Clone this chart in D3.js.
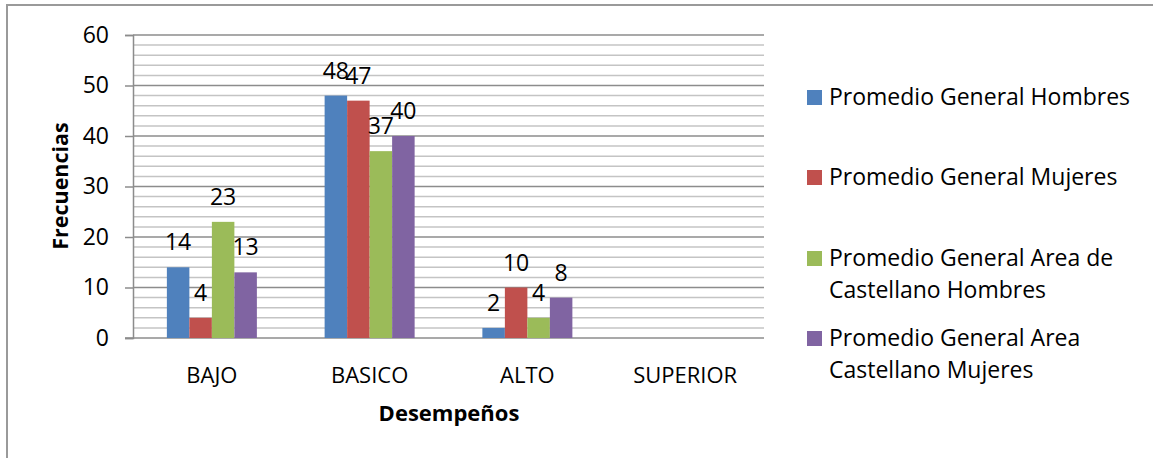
<!DOCTYPE html>
<html><head><meta charset="utf-8">
<script src="https://cdn.jsdelivr.net/npm/d3@7/dist/d3.min.js"></script>
<style>body{margin:0;background:#fff}svg{display:block}text{font-family:"Open Sans",sans-serif;fill:#000}</style>
</head><body>
<script>
const categories = ["BAJO","BASICO","ALTO","SUPERIOR"];
const series = ["Promedio General Hombres","Promedio General Mujeres","Promedio General Area de Castellano Hombres","Promedio General Area Castellano Mujeres"];
const legendLines = [["Promedio General Hombres"],["Promedio General Mujeres"],["Promedio General Area de","Castellano Hombres"],["Promedio General Area","Castellano Mujeres"]];
const hombres = [14,48,2,null];
const mujeres = [4,47,10,null];
const castHombres = [23,37,4,null];
const castMujeres = [13,40,8,null];
const yTicks = [0,10,20,30,40,50,60];
const colors = ["#4f81bd","#c0504d","#9bbb59","#8064a2"];
const values = [hombres,mujeres,castHombres,castMujeres];

const W=1153,H=458;
const svg=d3.select("body").append("svg").attr("width",W).attr("height",H);
svg.append("rect").attr("x",7).attr("y",5).attr("width",1160).attr("height",480).attr("fill","none").attr("stroke","#9a9a9a").attr("stroke-width",2);

const L=133,R=764,T=35,B=338;
const y=d3.scaleLinear().domain([0,60]).range([B,T]);
const x=d3.scaleBand().domain(categories).range([L,R]);
const gw=90;
const xi=d3.scaleBand().domain(d3.range(4)).range([0,gw]);

const g=svg.append("g");
g.selectAll("line.minor").data(d3.range(0,61,2).filter(v=>v%10!==0)).join("line")
 .attr("x1",L).attr("x2",R).attr("y1",d=>y(d)).attr("y2",d=>y(d)).attr("stroke","#c4c4c4").attr("stroke-width",1.5);
g.selectAll("line.major").data(yTicks.filter(v=>v>0)).join("line")
 .attr("x1",L).attr("x2",R).attr("y1",d=>y(d)).attr("y2",d=>y(d)).attr("stroke","#8c8c8c").attr("stroke-width",1.5);

const ya=d3.axisLeft(y).tickValues(yTicks).tickSize(8).tickPadding(16);
const yg=svg.append("g").attr("transform",`translate(${L},0)`).call(ya);
yg.select(".domain").attr("stroke","#8c8c8c").attr("stroke-width",1.5);
yg.selectAll(".tick line").attr("stroke","#8c8c8c").attr("stroke-width",1.5);
yg.selectAll(".tick text").attr("font-size",23).attr("font-family","Open Sans").attr("fill","#000");
svg.append("line").attr("x1",L-8).attr("x2",R).attr("y1",B).attr("y2",B).attr("stroke","#8c8c8c").attr("stroke-width",1.5);

categories.forEach((c,ci)=>{
  const x0=x(c)+(x.bandwidth()-gw)/2;
  values.forEach((arr,si)=>{
    const v=arr[ci]; if(v==null) return;
    svg.append("rect").attr("x",x0+xi(si)).attr("y",y(v)).attr("width",xi.bandwidth()).attr("height",B-y(v)).attr("fill",colors[si]);
  });
});
categories.forEach((c,ci)=>{
  const x0=x(c)+(x.bandwidth()-gw)/2;
  values.forEach((arr,si)=>{
    const v=arr[ci]; if(v==null) return;
    svg.append("text").attr("x",x0+xi(si)+xi.bandwidth()/2).attr("y",y(v)-17).attr("text-anchor","middle").attr("font-size",23).text(v);
  });
});

svg.selectAll("text.cat").data(categories).join("text").attr("class","cat")
 .attr("x",d=>x(d)+x.bandwidth()/2).attr("y",383).attr("text-anchor","middle").attr("font-size",22).text(d=>d);

svg.append("text").attr("x",449).attr("y",421).attr("text-anchor","middle").attr("font-size",22).attr("font-weight","bold").text("Desempeños");
svg.append("text").attr("transform","translate(68,186) rotate(-90)").attr("text-anchor","middle").attr("font-size",21.5).attr("font-weight","bold").text("Frecuencias");

const ly=[97,177,258,338];
legendLines.forEach((lines,i)=>{
  svg.append("rect").attr("x",807).attr("y",ly[i]-7).attr("width",15).attr("height",15).attr("fill",colors[i]);
  lines.forEach((t,j)=>{
    svg.append("text").attr("x",829).attr("y",ly[i]+j*32+8).attr("font-size",23).text(t);
  });
});
</script>
</body></html>
